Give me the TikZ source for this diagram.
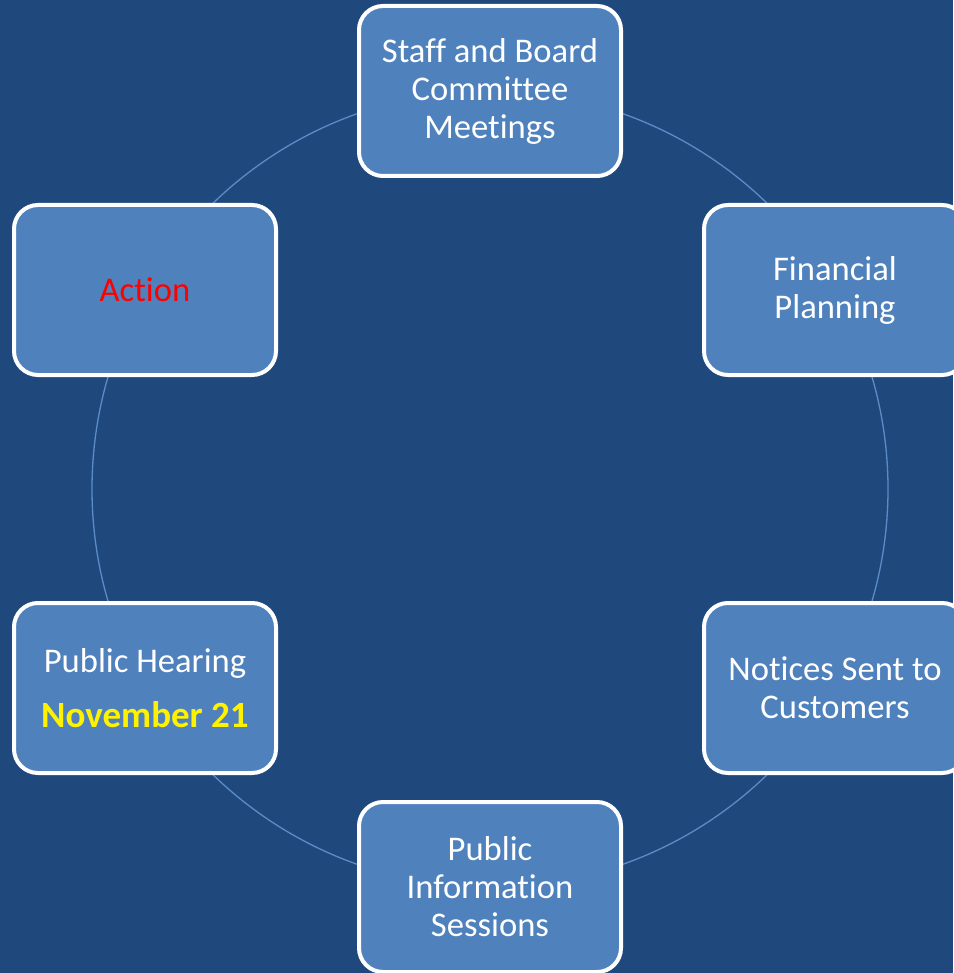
\documentclass[tikz,border=0pt]{standalone}
\usepackage{fontspec}
\setmainfont[Ligatures={NoCommon}]{Carlito}
\definecolor{bgblue}{HTML}{1F497D}
\definecolor{boxblue}{HTML}{4F81BD}
\definecolor{ringblue}{HTML}{5B8CC8}
\begin{document}
\begin{tikzpicture}[x=1pt,y=-1pt,
  stepbox/.style={draw=white, line width=4pt, fill=boxblue, rounded corners=24pt,
    minimum width=262pt, minimum height=170pt, align=center, text=white,
    font=\fontsize{34.6}{38}\selectfont, inner sep=0pt}]
\useasboundingbox (0,0) rectangle (953,973);
\fill[bgblue] (0,0) rectangle (953,973);
\draw[ringblue, line width=1.3pt] (490,489) circle (398);
\node[stepbox] (staff) at (490,91) {Staff and Board\\Committee\\Meetings};
\node[stepbox] (fin) at (835,290) {Financial\\Planning};
\node[stepbox] (notice) at (835,688) {Notices Sent to\\Customers};
\node[stepbox] (info) at (490,887) {Public\\Information\\Sessions};
\node[stepbox] (hear) at (145,688) {Public Hearing\\[17pt]{\color{yellow}\bfseries\fontsize{37}{38}\selectfont November 21}};
\node[stepbox] (action) at (145,290) {\color{red}Action};
\end{tikzpicture}
\end{document}
